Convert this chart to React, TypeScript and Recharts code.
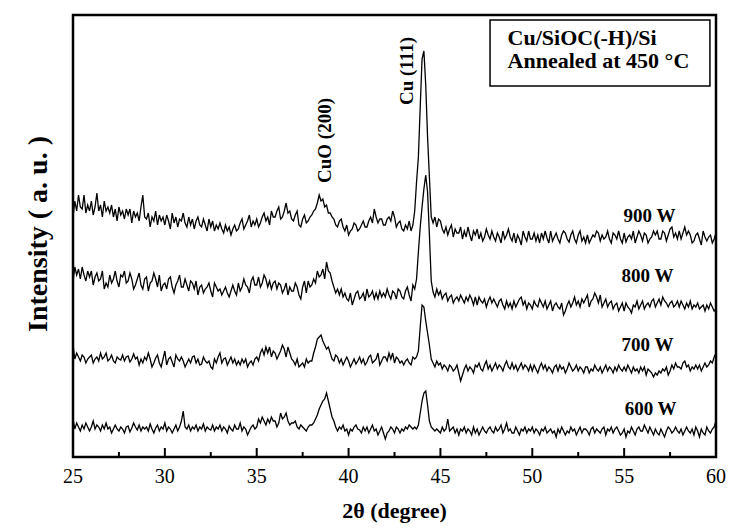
import React from 'react';
import { LineChart, Line, XAxis, YAxis, ReferenceArea, ReferenceDot, Label } from 'recharts';

const SERIF = '"Liberation Serif", "Times New Roman", Times, serif';

// 2θ grid: 25.0 → 60.0 in 0.1° steps (10 values per degree per row below)
const START = 25;
const STEP = 0.1;

// Intensity (a. u.), offset traces
const w900 = [
  240, 256, 246, 262, 250, 248, 262, 244, 252, 246,
  256, 242, 250, 264, 246, 252, 240, 256, 246, 250,
  244, 252, 240, 248, 236, 250, 242, 246, 238, 248,
  242, 248, 234, 246, 240, 244, 236, 250, 262, 240,
  238, 244, 230, 240, 236, 246, 232, 242, 236, 240,
  232, 242, 236, 228, 244, 234, 240, 230, 238, 236,
  244, 234, 230, 240, 232, 238, 228, 236, 240, 232,
  230, 238, 232, 226, 238, 230, 236, 226, 232, 228,
  234, 228, 224, 232, 226, 230, 222, 228, 232, 226,
  228, 234, 238, 228, 232, 236, 242, 230, 236, 232,
  238, 230, 234, 240, 244, 236, 240, 232, 246, 240,
  240, 246, 250, 238, 240, 246, 254, 244, 246, 238,
  236, 242, 246, 232, 230, 238, 242, 234, 236, 240,
  242, 246, 248, 254, 262, 256, 258, 250, 252, 244,
  244, 240, 238, 232, 230, 236, 238, 230, 226, 232,
  222, 226, 228, 234, 232, 226, 228, 232, 236, 230,
  230, 236, 240, 234, 248, 240, 234, 238, 238, 232,
  232, 238, 240, 236, 246, 240, 230, 234, 236, 228,
  226, 232, 228, 236, 226, 232, 246, 275, 300, 350,
  398, 406, 372, 320, 280, 240, 234, 240, 230, 238,
  236, 228, 224, 230, 222, 228, 232, 220, 228, 224,
  224, 230, 218, 226, 220, 230, 222, 216, 226, 222,
  228, 218, 224, 216, 220, 228, 222, 218, 226, 220,
  216, 224, 220, 214, 226, 218, 222, 228, 220, 216,
  224, 214, 222, 218, 212, 226, 220, 216, 226, 218,
  218, 224, 216, 222, 214, 224, 218, 226, 219, 214,
  226, 216, 220, 224, 218, 214, 222, 226, 224, 218,
  215, 222, 226, 218, 214, 222, 226, 216, 220, 214,
  222, 214, 218, 222, 220, 226, 224, 216, 222, 218,
  220, 226, 218, 214, 224, 222, 218, 226, 218, 214,
  224, 215, 220, 222, 218, 226, 214, 220, 226, 222,
  216, 224, 222, 214, 218, 220, 226, 222, 226, 218,
  218, 226, 224, 216, 222, 228, 230, 220, 224, 218,
  226, 218, 224, 230, 222, 226, 222, 214, 216, 222,
  224, 218, 212, 226, 220, 216, 220, 222, 214, 218,
  224,
];
const w800 = [
  175, 190, 182, 188, 178, 190, 182, 176, 186, 180,
  186, 172, 180, 184, 176, 178, 186, 168, 174, 170,
  182, 174, 178, 186, 176, 170, 182, 180, 186, 174,
  176, 184, 178, 168, 172, 178, 184, 172, 168, 178,
  180, 166, 174, 176, 184, 178, 170, 182, 166, 172,
  174, 168, 178, 180, 170, 164, 172, 176, 182, 170,
  170, 178, 172, 166, 176, 174, 168, 176, 162, 170,
  172, 164, 168, 170, 174, 166, 160, 174, 170, 166,
  168, 162, 166, 170, 164, 160, 166, 172, 166, 162,
  174, 166, 170, 178, 172, 170, 164, 176, 180, 172,
  172, 180, 170, 174, 182, 178, 170, 176, 168, 174,
  176, 168, 174, 172, 164, 168, 174, 162, 170, 166,
  166, 174, 170, 162, 158, 170, 176, 164, 176, 170,
  172, 178, 174, 186, 180, 182, 188, 178, 195, 186,
  184, 176, 170, 164, 168, 162, 168, 160, 164, 158,
  156, 164, 152, 158, 164, 166, 158, 160, 164, 156,
  168, 160, 162, 166, 158, 164, 158, 166, 160, 164,
  160, 168, 162, 158, 166, 164, 158, 168, 166, 160,
  158, 166, 170, 162, 156, 172, 168, 178, 205, 230,
  250, 268, 282, 265, 222, 176, 165, 160, 168, 162,
  166, 158, 162, 164, 156, 160, 162, 154, 158, 160,
  156, 162, 158, 154, 160, 156, 162, 158, 152, 160,
  152, 160, 156, 154, 158, 150, 156, 160, 154, 158,
  154, 150, 156, 158, 152, 148, 156, 150, 154, 148,
  156, 150, 154, 158, 160, 152, 156, 148, 154, 152,
  148, 156, 152, 150, 158, 154, 150, 156, 148, 152,
  156, 146, 152, 154, 150, 148, 154, 142, 146, 152,
  156, 150, 154, 160, 152, 156, 150, 158, 154, 158,
  162, 150, 156, 158, 164, 160, 154, 162, 150, 154,
  158, 150, 154, 156, 148, 152, 154, 146, 150, 154,
  146, 154, 150, 148, 144, 152, 150, 156, 148, 152,
  156, 148, 152, 154, 150, 156, 158, 150, 154, 158,
  152, 160, 156, 154, 150, 154, 156, 150, 152, 156,
  150, 156, 152, 148, 154, 150, 156, 148, 152, 150,
  154, 148, 150, 152, 146, 152, 148, 154, 150, 146,
  148,
];
const w700 = [
  112, 98, 104, 100, 96, 102, 100, 94, 98, 100,
  102, 94, 98, 100, 96, 104, 98, 100, 104, 96,
  98, 102, 96, 94, 100, 98, 97, 102, 96, 100,
  101, 95, 98, 103, 98, 100, 92, 98, 94, 100,
  97, 104, 98, 90, 94, 99, 102, 94, 90, 98,
  106, 92, 98, 100, 95, 90, 102, 98, 96, 100,
  96, 90, 94, 98, 94, 100, 101, 94, 98, 92,
  93, 100, 96, 94, 96, 90, 88, 98, 94, 100,
  104, 94, 98, 99, 92, 96, 100, 94, 98, 92,
  96, 92, 98, 94, 98, 90, 94, 96, 92, 98,
  100, 96, 104, 108, 102, 110, 104, 110, 100, 106,
  104, 98, 102, 106, 112, 108, 100, 110, 104, 98,
  96, 92, 98, 90, 92, 94, 90, 98, 94, 96,
  96, 104, 110, 118, 120, 122, 116, 112, 108, 110,
  104, 98, 96, 102, 100, 94, 98, 92, 96, 100,
  96, 90, 94, 98, 93, 96, 100, 94, 98, 92,
  95, 100, 102, 94, 96, 98, 104, 92, 96, 100,
  100, 96, 104, 98, 104, 94, 100, 98, 94, 96,
  92, 96, 98, 94, 92, 100, 98, 100, 106, 130,
  152, 150, 136, 124, 112, 98, 94, 90, 96, 92,
  94, 88, 92, 90, 86, 92, 90, 86, 88, 92,
  84, 76, 82, 88, 92, 86, 90, 88, 84, 92,
  90, 94, 88, 86, 92, 96, 88, 92, 86, 90,
  94, 88, 92, 90, 86, 92, 96, 90, 88, 94,
  88, 92, 86, 90, 94, 88, 92, 90, 86, 92,
  86, 92, 88, 84, 90, 94, 88, 92, 86, 90,
  88, 84, 90, 92, 86, 92, 88, 90, 84, 88,
  94, 90, 86, 88, 92, 86, 90, 88, 84, 90,
  90, 84, 88, 86, 92, 88, 86, 90, 84, 88,
  92, 86, 90, 88, 84, 90, 86, 92, 88, 86,
  90, 86, 92, 88, 84, 90, 86, 88, 84, 90,
  86, 90, 82, 88, 86, 84, 80, 84, 82, 86,
  84, 88, 86, 90, 82, 86, 92, 88, 94, 90,
  90, 88, 94, 96, 90, 92, 86, 90, 88, 92,
  88, 92, 86, 90, 94, 90, 92, 96, 94, 100,
  104,
];
const w600 = [
  38, 28, 34, 30, 26, 32, 28, 34, 30, 26,
  30, 36, 28, 32, 30, 26, 32, 28, 34, 28,
  30, 24, 28, 32, 28, 26, 30, 28, 24, 30,
  31, 25, 29, 34, 30, 27, 32, 26, 30, 28,
  30, 26, 33, 28, 24, 29, 32, 26, 30, 28,
  34, 26, 30, 28, 24, 28, 32, 26, 30, 36,
  46, 30, 28, 32, 26, 30, 28, 32, 26, 30,
  28, 33, 26, 30, 28, 27, 32, 26, 30, 28,
  32, 26, 30, 28, 24, 31, 28, 26, 32, 28,
  28, 34, 26, 30, 28, 22, 26, 30, 32, 28,
  30, 38, 34, 40, 36, 32, 38, 34, 40, 36,
  36, 30, 34, 44, 38, 40, 44, 36, 32, 34,
  34, 36, 30, 28, 32, 30, 28, 26, 30, 32,
  32, 34, 38, 42, 48, 52, 56, 58, 64, 56,
  48, 40, 36, 30, 26, 30, 28, 32, 26, 28,
  22, 28, 26, 30, 32, 28, 27, 24, 30, 26,
  30, 24, 28, 32, 26, 28, 22, 26, 30, 24,
  18, 24, 26, 30, 28, 24, 30, 28, 24, 28,
  26, 30, 28, 32, 30, 28, 30, 28, 32, 44,
  56, 64, 66, 52, 36, 30, 28, 26, 28, 26,
  24, 30, 26, 28, 38, 26, 28, 30, 24, 28,
  22, 28, 26, 30, 24, 28, 26, 22, 30, 24,
  28, 22, 26, 30, 26, 24, 28, 30, 26, 24,
  30, 26, 28, 32, 24, 28, 34, 26, 28, 24,
  24, 30, 26, 22, 28, 26, 30, 24, 28, 26,
  30, 24, 28, 26, 22, 28, 26, 30, 24, 26,
  28, 24, 26, 20, 28, 24, 30, 26, 22, 26,
  24, 30, 26, 28, 22, 26, 30, 24, 28, 28,
  26, 22, 28, 30, 24, 28, 26, 24, 28, 30,
  22, 28, 26, 30, 24, 28, 30, 26, 22, 24,
  28, 20, 26, 24, 30, 26, 22, 28, 30, 26,
  26, 32, 28, 24, 30, 26, 22, 28, 24, 22,
  28, 24, 20, 26, 30, 28, 24, 26, 30, 26,
  24, 28, 22, 26, 30, 26, 24, 28, 22, 30,
  26, 20, 28, 24, 22, 30, 26, 24, 28, 30,
  36,
];

const seriesKeys = ['w900', 'w800', 'w700', 'w600'];
const seriesNames = ['900 W', '800 W', '700 W', '600 W'];
const xTicks = [25, 27.5, 30, 32.5, 35, 37.5, 40, 42.5, 45, 47.5, 50, 52.5, 55, 57.5, 60];

const data = w900.map((v, i) => ({
  x: Math.round((START + i * STEP) * 10) / 10,
  w900: v,
  w800: w800[i],
  w700: w700[i],
  w600: w600[i],
}));

function XTick(props: any) {
  const { x, y, payload } = props;
  const v = payload.value;
  const major = v % 5 === 0;
  return (
    <g>
      <line x1={x} x2={x} y1={y} y2={y - (major ? 9 : 5)} stroke="#000" strokeWidth={2} />
      {major && (
        <text x={x} y={y + 26} textAnchor="middle" style={{ fontFamily: SERIF }} fontSize={20} fill="#000">
          {v}
        </text>
      )}
    </g>
  );
}

const boldText = { fontFamily: SERIF, fontWeight: 'bold', fill: '#000' };

export default function App() {
  return (
    <div style={{ position: 'absolute', left: 0, top: 0, width: 738, height: 532, background: '#fff' }}>
      <LineChart width={738} height={532} data={data} margin={{ top: 15, right: 22, bottom: 0, left: 0 }}>
        <XAxis
          dataKey="x"
          type="number"
          domain={[25, 60]}
          ticks={xTicks}
          interval={0}
          tick={<XTick />}
          tickLine={false}
          tickSize={0}
          tickMargin={0}
          axisLine={false}
          height={75}
        >
          <Label value="2θ (degree)" position="insideBottom" offset={14} fontSize={22} {...boldText} />
        </XAxis>
        <YAxis type="number" domain={[0, 442]} width={73} tick={false} axisLine={false} tickLine={false}>
          <Label value="Intensity ( a. u. )" angle={-90} position="center" dx={1} dy={-2} fontSize={28} {...boldText} />
        </YAxis>
        {seriesKeys.map((k) => (
          <Line key={k} dataKey={k} type="linear" stroke="#000" strokeWidth={1.3} dot={false} isAnimationActive={false} />
        ))}
        <ReferenceArea x1={25} x2={60} y1={0} y2={442} fill="none" fillOpacity={0} stroke="#000" strokeWidth={2.5} />
        <ReferenceArea x1={47.7} x2={59.67} y1={371} y2={437} fill="#fff" fillOpacity={1} stroke="#000" strokeWidth={1.5} />
        <ReferenceDot x={48.6} y={419.8} r={1} fill="none" stroke="none"
          label={{ value: 'Cu/SiOC(-H)/Si', position: 'right', offset: 0, fontSize: 22, ...boldText }} />
        <ReferenceDot x={48.6} y={396.8} r={1} fill="none" stroke="none"
          label={{ value: 'Annealed at 450 °C', position: 'right', offset: 0, fontSize: 22, ...boldText }} />
        <ReferenceDot x={38.66} y={316.5} r={1} fill="none" stroke="none"
          label={{ value: 'CuO (200)', position: 'center', angle: -90, fontSize: 19, ...boldText }} />
        <ReferenceDot x={43.13} y={386} r={1} fill="none" stroke="none"
          label={{ value: 'Cu (111)', position: 'center', angle: -90, fontSize: 19, ...boldText }} />
        <ReferenceDot x={56.38} y={241.5} r={1} fill="none" stroke="none"
          label={{ value: seriesNames[0], position: 'center', fontSize: 19, ...boldText }} />
        <ReferenceDot x={56.27} y={181.7} r={1} fill="none" stroke="none"
          label={{ value: seriesNames[1], position: 'center', fontSize: 19, ...boldText }} />
        <ReferenceDot x={56.27} y={112.7} r={1} fill="none" stroke="none"
          label={{ value: seriesNames[2], position: 'center', fontSize: 19, ...boldText }} />
        <ReferenceDot x={56.44} y={48.7} r={1} fill="none" stroke="none"
          label={{ value: seriesNames[3], position: 'center', fontSize: 19, ...boldText }} />
      </LineChart>
    </div>
  );
}
